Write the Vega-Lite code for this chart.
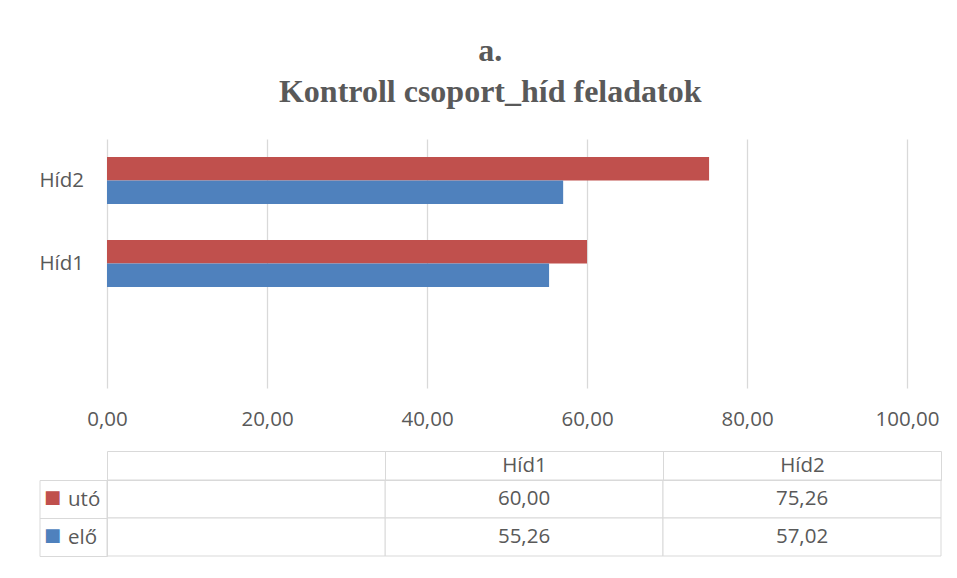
{
  "$schema": "https://vega.github.io/schema/vega-lite/v6.json",
  "background": "#ffffff",
  "padding": {"left": 38, "top": 35, "right": 10, "bottom": 10},
  "title": {
    "text": ["a.", "Kontroll csoport_híd feladatok"],
    "font": "Liberation Serif",
    "fontSize": 32,
    "fontWeight": "bold",
    "color": "#595959",
    "lineHeight": 41,
    "anchor": "middle",
    "offset": 30
  },
  "datasets": {
    "scores": [
      {"feladat": "Híd1", "meres": "utó", "ertek": 60.00},
      {"feladat": "Híd1", "meres": "elő", "ertek": 55.26},
      {"feladat": "Híd2", "meres": "utó", "ertek": 75.26},
      {"feladat": "Híd2", "meres": "elő", "ertek": 57.02},
      {"feladat": "", "meres": "utó", "ertek": null},
      {"feladat": "", "meres": "elő", "ertek": null}
    ]
  },
  "spacing": 20,
  "vconcat": [
    {
      "width": 800,
      "height": 249,
      "data": {"name": "scores"},
      "transform": [{"filter": "isValid(datum.ertek)"}],
      "mark": {"type": "bar"},
      "encoding": {
        "y": {
          "field": "feladat",
          "type": "nominal",
          "scale": {"domain": ["Híd2", "Híd1", ""], "paddingInner": 0.434, "paddingOuter": 0.217},
          "axis": {
            "title": null,
            "ticks": false,
            "tickSize": 0,
            "domain": false,
            "labelPadding": 23.5,
            "labelFont": "Open Sans",
            "labelFontSize": 20.5,
            "labelColor": "#595959"
          }
        },
        "yOffset": {
          "field": "meres",
          "type": "nominal",
          "scale": {"domain": ["utó", "elő"]}
        },
        "x": {
          "field": "ertek",
          "type": "quantitative",
          "scale": {"domain": [0, 100]},
          "axis": {
            "title": null,
            "values": [0, 20, 40, 60, 80, 100],
            "format": ".2f",
            "ticks": false,
            "tickSize": 0,
            "domain": false,
            "grid": true,
            "gridColor": "#D9D9D9",
            "gridWidth": 1.3,
            "labelFlush": false,
            "labelOverlap": false,
            "labelBaseline": "middle",
            "labelPadding": 31,
            "labelFont": "Open Sans",
            "labelFontSize": 20.5,
            "labelColor": "#595959"
          }
        },
        "color": {
          "field": "meres",
          "type": "nominal",
          "scale": {"domain": ["utó", "elő"], "range": ["#C0504D", "#4F81BD"]},
          "legend": null
        }
      }
    },
    {
      "width": 834,
      "height": 76,
      "data": {"name": "scores"},
      "layer": [
        {
          "mark": {"type": "rect", "fill": "#ffffff", "stroke": "#D9D9D9", "strokeWidth": 1},
          "encoding": {
            "x": {
              "field": "feladat",
              "type": "nominal",
              "scale": {"domain": ["", "Híd1", "Híd2"], "paddingInner": 0, "paddingOuter": 0},
              "axis": {
                "orient": "top",
                "title": null,
                "tickBand": "extent",
                "ticks": true,
                "tickSize": 29,
                "tickColor": "#D9D9D9",
                "domain": true,
                "domainColor": "#D9D9D9",
                "labelAngle": 0,
                "labelBaseline": "middle",
                "labelPadding": -14.5,
                "labelFont": "Open Sans",
                "labelFontSize": 20.5,
                "labelColor": "#595959"
              }
            },
            "y": {
              "field": "meres",
              "type": "nominal",
              "scale": {"domain": ["utó", "elő"], "paddingInner": 0, "paddingOuter": 0},
              "axis": {
                "orient": "left",
                "title": null,
                "tickBand": "extent",
                "ticks": true,
                "tickSize": 67.5,
                "tickColor": "#D9D9D9",
                "domain": true,
                "domainColor": "#D9D9D9",
                "labelAlign": "left",
                "labelPadding": -28,
                "labelFont": "Open Sans",
                "labelFontSize": 20.5,
                "labelColor": "#595959"
              }
            }
          }
        },
        {
          "transform": [{"filter": "isValid(datum.ertek)"}],
          "mark": {"type": "text", "font": "Open Sans", "fontSize": 20.5, "color": "#595959"},
          "encoding": {
            "x": {
              "field": "feladat",
              "type": "nominal",
              "scale": {"domain": ["", "Híd1", "Híd2"], "paddingInner": 0, "paddingOuter": 0},
              "axis": {
                "orient": "top",
                "offset": 29,
                "title": null,
                "labels": false,
                "ticks": false,
                "domain": true,
                "domainColor": "#D9D9D9"
              }
            },
            "y": {
              "field": "meres",
              "type": "nominal",
              "scale": {"domain": ["utó", "elő"], "paddingInner": 0, "paddingOuter": 0},
              "axis": {
                "orient": "left",
                "offset": 67.5,
                "title": null,
                "ticks": false,
                "tickSize": 0,
                "domain": true,
                "domainColor": "#D9D9D9",
                "labelExpr": "'■'",
                "labelFont": "DejaVu Sans",
                "labelFontSize": 18,
                "labelPadding": -21,
                "labelOffset": -1,
                "labelColor": {"condition": {"test": "datum.value === 'utó'", "value": "#C0504D"}, "value": "#4F81BD"}
              }
            },
            "text": {"field": "ertek", "type": "quantitative", "format": ".2f"}
          }
        }
      ],
      "resolve": {"axis": {"x": "independent", "y": "independent"}}
    }
  ],
  "config": {
    "locale": {"number": {"decimal": ",", "thousands": " ", "grouping": [3], "currency": ["", ""]}},
    "view": {"stroke": null},
    "font": "Open Sans"
  }
}
